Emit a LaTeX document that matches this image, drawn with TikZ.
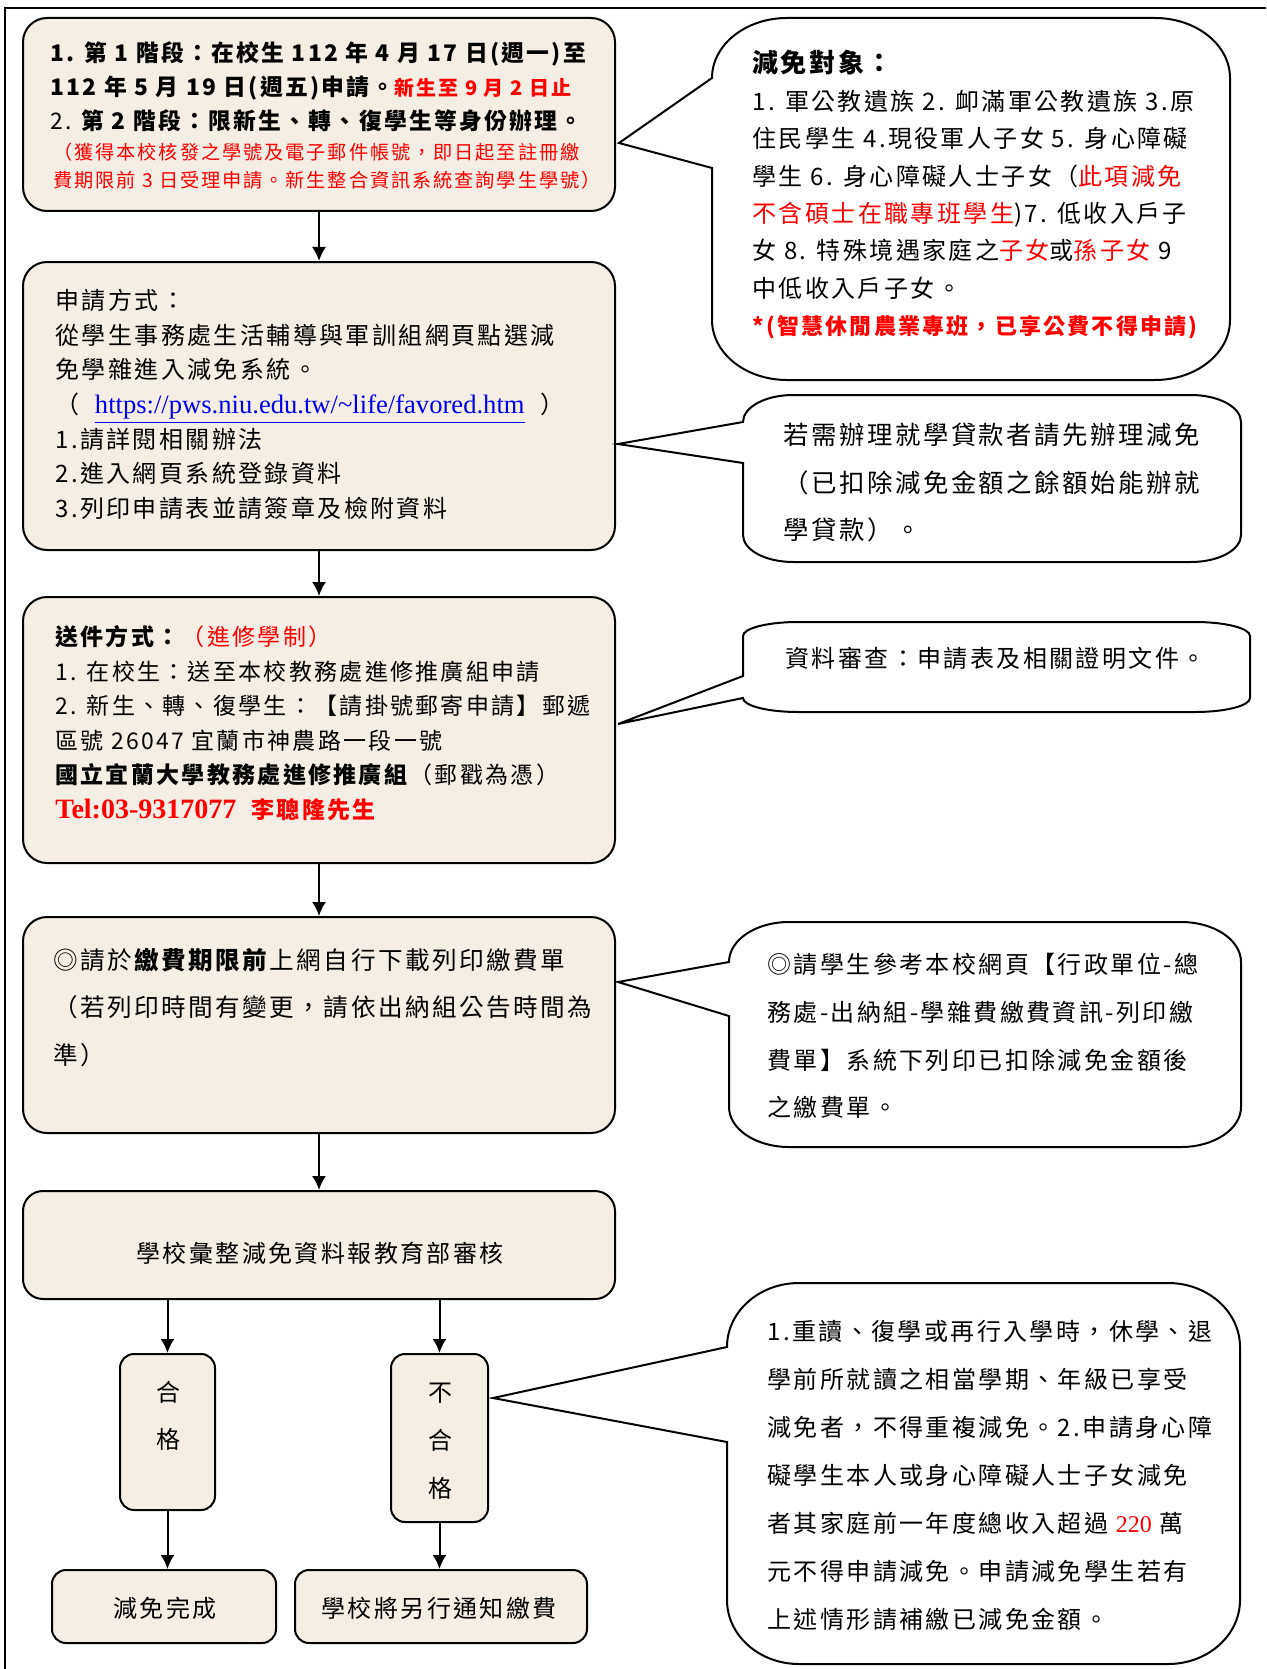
\documentclass[tikz,border=0pt]{standalone}
\usepackage{fontspec}
\setmainfont{Noto Sans CJK TC}[LetterSpace=10.0]
\newfontfamily\serifen{Liberation Serif}
\usetikzlibrary{arrows.meta}
\definecolor{boxfill}{HTML}{F4EEE4}
\definecolor{linkblue}{HTML}{0000EE}
\newcommand{\redtxt}[1]{{\color{red}#1}}

\begin{document}
\begin{tikzpicture}[x=0.5pt, y=-0.5pt,
  box/.style={draw, line width=1pt, fill=boxfill, rounded corners=12pt, inner sep=0pt},
  smallbox/.style={box, rounded corners=7pt},
  txt/.style={anchor=north west, inner sep=0pt, align=left},
  callout/.style={draw, line width=1pt, fill=white},
  flow/.style={line width=1pt, -{Latex[length=7pt,width=7pt]}}]

\useasboundingbox (0,0) rectangle (1266,1669);

\draw[line width=1pt] (1266,8) -- (5,8) -- (5,1669);

% flow boxes
\node[box, minimum width=296pt, minimum height=96.5pt] (b1) at (319,114.5) {};
\node[box, minimum width=296pt, minimum height=144pt] (b2) at (319,406) {};
\node[box, minimum width=296pt, minimum height=133pt] (b3) at (319,730) {};
\node[box, minimum width=296pt, minimum height=108pt] (b4) at (319,1025) {};
\node[box, minimum width=296pt, minimum height=54pt, rounded corners=10pt] (b5) at (319,1245) {};

\node[smallbox, minimum width=47.5pt, minimum height=78pt] (pass) at (167.5,1432) {};
\node[smallbox, minimum width=48.5pt, minimum height=84pt] (fail) at (439.5,1438) {};
\node[smallbox, minimum width=112pt, minimum height=36.5pt] (done) at (164,1606.5) {};
\node[smallbox, minimum width=146pt, minimum height=36.5pt] (notify) at (441,1606.5) {};

\draw[flow] (b1) -- (b2);
\draw[flow] (b2) -- (b3);
\draw[flow] (b3) -- (b4);
\draw[flow] (b4) -- (b5);
\draw[flow] (b5.south -| pass) -- (pass);
\draw[flow] (b5.south -| fail) -- (fail);
\draw[flow] (pass.south) -- (pass.south |- done.north);
\draw[flow] (fail.south) -- (fail.south |- notify.north);

% texts in the boxes
\node[txt, font=\fontsize{11.4}{17}\selectfont\bfseries] (t1) at (50,41)
  {1. 第 1 階段：在校生 112 年 4 月 17 日(週一)至\\
   112 年 5 月 19 日(週五)申請。{\color{red}\fontsize{10}{17}\selectfont 新生至 9 月 2 日止}\\
   {\mdseries 2.} 第 2 階段：限新生、轉、復學生等身份辦理。};
\node[txt, font=\fontsize{9.6}{14}\selectfont, text=red] (t1r) at (53,143)
  {（獲得本校核發之學號及電子郵件帳號，即日起至註冊繳\\
   費期限前 3 日受理申請。新生整合資訊系統查詢學生學號）};

\node[txt, font=\fontsize{12}{17.3}\selectfont] (t2) at (55,289)
  {申請方式：\\
   從學生事務處生活輔導與軍訓組網頁點選減\\
   免學雜進入減免系統。\\
   （\ \ {\serifen\fontsize{13.3}{17.3}\selectfont\color{linkblue}\underline{https://pws.niu.edu.tw/\textasciitilde life/favored.htm}}\ \ ）\\
   1.請詳閱相關辦法\\
   2.進入網頁系統登錄資料\\
   3.列印申請表並請簽章及檢附資料};

\node[txt, font=\fontsize{11.5}{17.3}\selectfont] (t3) at (55,625)
  {\textbf{送件方式：}\redtxt{（進修學制）}\\
   1. 在校生：送至本校教務處進修推廣組申請\\
   2. 新生、轉、復學生：【請掛號郵寄申請】郵遞\\
   區號 26047 宜蘭市神農路一段一號\\
   \textbf{國立宜蘭大學教務處進修推廣組}（郵戳為憑）\\
   {\color{red}\bfseries{\serifen\fontsize{14}{17.3}\selectfont Tel:03-9317077}\ \ 李聰隆先生}};

\node[txt, font=\fontsize{12.3}{23.7}\selectfont] (t4) at (53,948)
  {◎請於\textbf{繳費期限前}上網自行下載列印繳費單\\
   （若列印時間有變更，請依出納組公告時間為\\
   準）};

\node[font=\fontsize{12}{14}\selectfont] (t5) at (320,1253) {學校彙整減免資料報教育部審核};
\node[align=center, font=\fontsize{12}{23.5}\selectfont] (t6) at (168,1416) {合\\格};
\node[align=center, font=\fontsize{12}{24}\selectfont] (t7) at (440,1441) {不\\合\\格};
\node[font=\fontsize{12}{14}\selectfont] (t8) at (165,1608) {減免完成};
\node[font=\fontsize{12}{14}\selectfont] (t9) at (439,1608) {學校將另行通知繳費};

% callouts
\draw[callout] (712,78) -- (619,143) -- (712,168) -- (712,320)
  arc[start angle=180, end angle=90, x radius=75, y radius=60] -- (1155,380)
  arc[start angle=90, end angle=0, x radius=75, y radius=60] -- (1230,78)
  arc[start angle=0, end angle=-90, x radius=75, y radius=60] -- (787,18)
  arc[start angle=-90, end angle=-180, x radius=75, y radius=60] -- cycle;

\draw[callout] (743,422) -- (618,444) -- (743,463) -- (743,535)
  arc[start angle=180, end angle=90, x radius=50, y radius=27] -- (1191,562)
  arc[start angle=90, end angle=0, x radius=50, y radius=27] -- (1241,422)
  arc[start angle=0, end angle=-90, x radius=50, y radius=27] -- (793,395)
  arc[start angle=-90, end angle=-180, x radius=50, y radius=27] -- cycle;

\draw[callout] (743,676) -- (618,724) -- (743,698)
  arc[start angle=180, end angle=90, x radius=55, y radius=14] -- (1195,712)
  arc[start angle=90, end angle=0, x radius=55, y radius=14] -- (1250,636)
  arc[start angle=0, end angle=-90, x radius=55, y radius=14] -- (798,622)
  arc[start angle=-90, end angle=-180, x radius=55, y radius=14] -- cycle;

\draw[callout] (729,962) -- (618,982) -- (729,1016) -- (729,1107)
  arc[start angle=180, end angle=90, x radius=60, y radius=40] -- (1181,1147)
  arc[start angle=90, end angle=0, x radius=60, y radius=40] -- (1241,962)
  arc[start angle=0, end angle=-90, x radius=60, y radius=40] -- (789,922)
  arc[start angle=-90, end angle=-180, x radius=60, y radius=40] -- cycle;

\draw[callout] (727,1347) -- (493,1398) -- (727,1442) -- (727,1600)
  arc[start angle=180, end angle=90, x radius=72, y radius=64] -- (1168,1664)
  arc[start angle=90, end angle=0, x radius=72, y radius=64] -- (1240,1347)
  arc[start angle=0, end angle=-90, x radius=72, y radius=64] -- (799,1283)
  arc[start angle=-90, end angle=-180, x radius=72, y radius=64] -- cycle;

% texts in the callouts
\node[txt, font=\fontsize{13}{17}\selectfont\bfseries] (h1) at (752,50) {減免對象：};
\node[txt, font=\fontsize{12}{18.65}\selectfont] (c1) at (752,90)
  {1. 軍公教遺族 2. 卹滿軍公教遺族 3.原\\
   住民學生 4.現役軍人子女 5. 身心障礙\\
   學生 6. 身心障礙人士子女（\redtxt{此項減免}\\
   \redtxt{不含碩士在職專班學生})7. 低收入戶子\\
   女 8. 特殊境遇家庭之\redtxt{子女}或\redtxt{孫子女} 9\\
   中低收入戶子女。\\
   {\color{red}\bfseries\fontsize{11}{18.65}\selectfont *(智慧休閒農業專班，已享公費不得申請)}};

\node[txt, font=\fontsize{12.7}{23.7}\selectfont] (c2) at (783,423)
  {若需辦理就學貸款者請先辦理減免\\
   （已扣除減免金額之餘額始能辦就\\
   學貸款）。};

\node[anchor=west, inner sep=0pt, font=\fontsize{12}{14}\selectfont] (c3) at (785,658)
  {資料審查：申請表及相關證明文件。};

\node[txt, font=\fontsize{12}{23.85}\selectfont] (c4) at (767,953)
  {◎請學生參考本校網頁【行政單位-總\\
   務處-出納組-學雜費繳費資訊-列印繳\\
   費單】系統下列印已扣除減免金額後\\
   之繳費單。};

\node[txt, font=\fontsize{12}{23.95}\selectfont] (c5) at (767,1320)
  {1.重讀、復學或再行入學時，休學、退\\
   學前所就讀之相當學期、年級已享受\\
   減免者，不得重複減免。2.申請身心障\\
   礙學生本人或身心障礙人士子女減免\\
   者其家庭前一年度總收入超過 \redtxt{\serifen 220} 萬\\
   元不得申請減免。申請減免學生若有\\
   上述情形請補繳已減免金額。};
\end{tikzpicture}
\end{document}
